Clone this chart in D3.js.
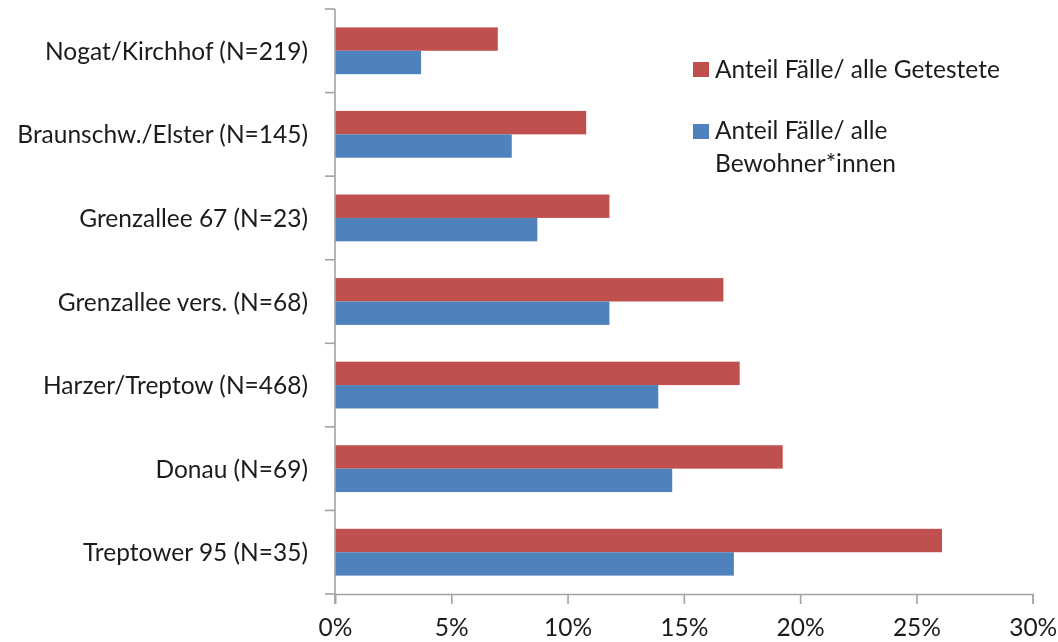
<!DOCTYPE html>
<html><head><meta charset="utf-8">
<script src="https://cdn.jsdelivr.net/npm/d3@7"></script>
<style>
html,body{margin:0;padding:0;background:#fff}
svg{display:block;filter:blur(0.35px)}
text{font-family:Lato,"Open Sans",sans-serif;fill:#1c1c1c}
</style></head><body>
<svg id="c" width="1058" height="642"></svg>
<script>
const categories=["Nogat/Kirchhof (N=219)","Braunschw./Elster (N=145)","Grenzallee 67 (N=23)","Grenzallee vers. (N=68)","Harzer/Treptow (N=468)","Donau (N=69)","Treptower 95 (N=35)"];
const seriesNames=["Anteil Fälle/ alle Getestete","Anteil Fälle/ alle Bewohner*innen"];
const getestete=[7.0,10.8,11.8,16.7,17.4,19.25,26.1];
const bewohner=[3.7,7.6,8.7,11.8,13.9,14.5,17.15];
const xTicks=[0,5,10,15,20,25,30];
const colors=["#c0504d","#4f81bd"];
const axisColor="#a3a3a3";
const fontSize=24.5;
const svg=d3.select("#c");
const x=d3.scaleLinear().domain([0,30]).range([335,1032.7]);
const y=d3.scaleBand().domain(categories).range([9,594]).paddingInner(0.44).paddingOuter(0.22);
const sub=d3.scaleBand().domain([0,1]).range([0,y.bandwidth()]);
[getestete,bewohner].forEach((vals,s)=>{
  svg.append("g").selectAll("rect").data(vals).join("rect")
    .attr("x",x(0)).attr("y",(d,i)=>y(categories[i])+sub(s))
    .attr("width",d=>x(d)-x(0)).attr("height",sub.bandwidth())
    .attr("fill",colors[s]);
});
// value axis
const gx=svg.append("g").attr("transform","translate(0,594)")
  .call(d3.axisBottom(x).tickValues(xTicks).tickFormat(d=>d+"%").tickSize(10).tickSizeOuter(10).tickPadding(15));
gx.selectAll("text").attr("font-size",fontSize).attr("dy","0.71em").style("font-family","Lato");
// category axis
const step=y.step();
const gy=svg.append("g");
gy.append("line").attr("x1",x(0)).attr("x2",x(0)).attr("y1",9).attr("y2",604);
gy.selectAll("line.t").data(d3.range(categories.length+1)).join("line").attr("class","t")
  .attr("x1",325).attr("x2",x(0)).attr("y1",i=>9+i*step).attr("y2",i=>9+i*step);
gy.selectAll("text").data(categories).join("text")
  .attr("x",308).attr("y",d=>y(d)+y.bandwidth()/2+9)
  .attr("text-anchor","end").attr("font-size",fontSize).text(d=>d);
svg.selectAll("g line, g path.domain").attr("stroke",axisColor).attr("stroke-width",1.6);
// legend
const leg=svg.append("g");
const legendRows=[{c:colors[0],sq:62,lines:[[seriesNames[0],78]]},
  {c:colors[1],sq:124,lines:[["Anteil Fälle/ alle",139],["Bewohner*innen",172]]}];
legendRows.forEach(r=>{
  leg.append("rect").attr("x",693).attr("y",r.sq).attr("width",16).attr("height",15).attr("fill",r.c);
  r.lines.forEach(l=>leg.append("text").attr("x",715).attr("y",l[1]).attr("font-size",fontSize).text(l[0]));
});
</script></body></html>
